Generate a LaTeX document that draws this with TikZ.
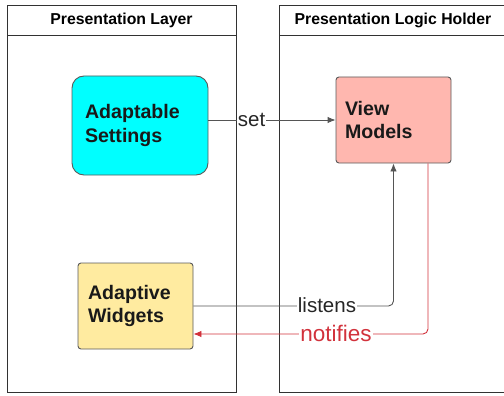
\documentclass[tikz,border=0pt]{standalone}
\usepackage{fontspec}
\setmainfont{Liberation Sans}
\usetikzlibrary{arrows.meta}
\definecolor{poolline}{RGB}{50,50,50}
\definecolor{boxline}{RGB}{90,90,90}
\definecolor{connline}{RGB}{85,85,85}
\definecolor{redline}{RGB}{210,50,60}
\definecolor{cyanfill}{RGB}{0,255,255}
\definecolor{pinkfill}{RGB}{255,183,175}
\definecolor{yellowfill}{RGB}{255,235,160}
\tikzset{
  pool/.style={draw=poolline, line width=0.9pt},
  hdr/.style={font=\bfseries\fontsize{15.8}{18}\selectfont, text=black},
  box/.style={draw=boxline, line width=0.9pt, align=left, inner ysep=0pt,
    font=\bfseries\fontsize{19.6}{23.5}\selectfont, text=black!90},
  conn/.style={draw=connline, line width=0.9pt},
  tip/.style={-{Latex[length=8pt,width=6.5pt]}},
  lbl/.style={fill=white, inner sep=1pt, font=\fontsize{20.5}{22}\selectfont, text=black!85},
}
\begin{document}
\begin{tikzpicture}[x=1pt,y=-1pt]
\useasboundingbox (0,0) rectangle (504,396);
\begin{scope}
\clip (0,0) rectangle (504,396);
% pools
\draw[pool] (7,5) rectangle (236,392);
\draw[pool] (7,35) -- (236,35);
\draw[pool] (279,5) rectangle (508,392);
\draw[pool] (279,35) -- (508,35);
\end{scope}
\node[hdr] (h1) at (121.5,20) {Presentation Layer};
\node[hdr] (h2) at (393,20) {Presentation Logic Holder};
% nodes
\node[box, fill=cyanfill, rounded corners=12pt, text width=110pt, inner xsep=13pt,
  minimum height=99pt] (as) at (140,125.5) {Adaptable\\Settings};
\node[box, fill=pinkfill, rounded corners=3pt, text width=97pt, inner xsep=9pt,
  minimum height=86pt] (vm) at (393.5,120) {View\\Models};
\node[box, fill=yellowfill, rounded corners=3pt, text width=95pt, inner xsep=10pt,
  minimum height=86pt] (aw) at (135.5,306) {Adaptive\\Widgets};
% connectors
\draw[conn, tip] (vm.west -| as.east) -- node[lbl, pos=0.34] (lset) {set} (vm.west);
\draw[conn, tip, rounded corners=5pt] (aw.east) -- (aw.east -| vm.south) -- (vm.south);
\node[lbl] (llis) at (327,305) {listens};
\coordinate (nstart) at ([xshift=34.5pt]vm.south);
\draw[draw=redline, line width=0.9pt, tip, rounded corners=5pt]
  (nstart) -- (nstart |- 0,334) -- (aw.east |- 0,334);
\node[lbl, text=redline, font=\fontsize{22.5}{24}\selectfont] (lnot) at (336,333) {notifies};
\end{tikzpicture}
\end{document}
